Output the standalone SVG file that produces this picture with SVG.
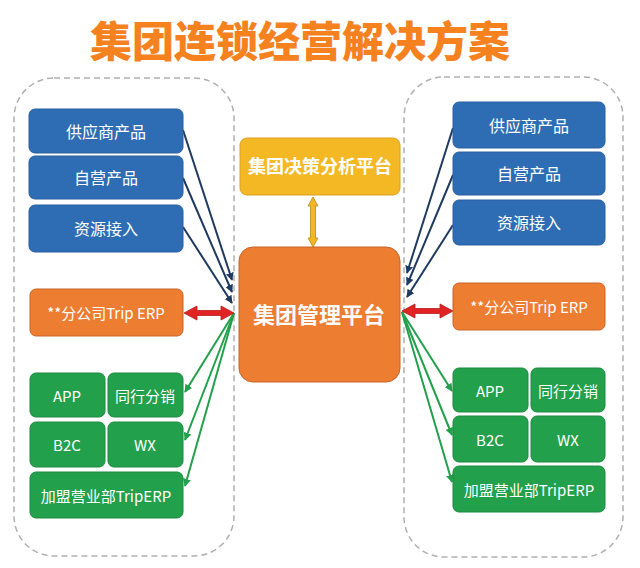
<svg xmlns="http://www.w3.org/2000/svg" width="640" height="568" viewBox="0 0 640 568">
<defs>
<style>
.t{font-family:"Noto Sans CJK SC","Liberation Sans",sans-serif;fill:#fff;text-anchor:middle;dominant-baseline:central}
.blue{fill:#2E6DB4;stroke:#2A5F9E;stroke-width:1}
.org{fill:#ED7D31;stroke:#C9652A;stroke-width:1}
.grn{fill:#22A04B;stroke:#1C8A40;stroke-width:1}
.cont{fill:none;stroke:#B0B0B0;stroke-width:1.5;stroke-dasharray:6 4}
.bl{stroke:#1F3A60;stroke-width:2;fill:none;marker-end:url(#ab)}
.gl{stroke:#22A04B;stroke-width:2;fill:none;marker-end:url(#ag)}
.red{fill:#E02424;stroke:#B81C1C;stroke-width:0.8}
</style>
<marker id="ab" viewBox="0 0 10 10" refX="9" refY="5" markerWidth="4" markerHeight="4" orient="auto"><path d="M0,0L10,5L0,10z" fill="#1F3A60"/></marker>
<marker id="ag" viewBox="0 0 10 10" refX="9" refY="5" markerWidth="4" markerHeight="4" orient="auto"><path d="M0,0L10,5L0,10z" fill="#22A04B"/></marker>
</defs>
<rect width="640" height="568" fill="#fff"/>
<text x="300" y="38" font-family="Noto Sans CJK SC,sans-serif" font-weight="900" font-size="42" fill="#F5821F" text-anchor="middle" dominant-baseline="central">集团连锁经营解决方案</text>

<rect class="cont" x="14" y="78" width="220" height="478" rx="40"/>
<rect class="cont" x="404" y="77" width="219" height="480" rx="40"/>

<g id="connectors">
<line class="bl" x1="183" y1="130" x2="232" y2="280"/>
<line class="bl" x1="183" y1="178" x2="232" y2="292"/>
<line class="bl" x1="183" y1="227" x2="232" y2="303"/>
<line class="gl" x1="234" y1="313" x2="185" y2="392"/>
<line class="gl" x1="234" y1="313" x2="185" y2="440"/>
<line class="gl" x1="234" y1="313" x2="185" y2="486"/>
<line class="bl" x1="453" y1="128" x2="407" y2="273"/>
<line class="bl" x1="453" y1="175" x2="407" y2="285"/>
<line class="bl" x1="453" y1="225" x2="407" y2="297"/>
<line class="gl" x1="402" y1="312" x2="452" y2="391"/>
<line class="gl" x1="402" y1="312" x2="452" y2="435"/>
<line class="gl" x1="402" y1="312" x2="452" y2="482"/>
<path class="red" d="M184,313 L197,306 L197,310.5 L221,310.5 L221,306 L234,313 L221,320 L221,315.5 L197,315.5 L197,320 Z"/>
<path class="red" d="M402,311 L415,304 L415,308.5 L440,308.5 L440,304 L453,311 L440,318 L440,313.5 L415,313.5 L415,318 Z"/>
<path d="M313,197 L318,206 L315.5,206 L315.5,238 L318,238 L313,247 L308,238 L310.5,238 L310.5,206 L308,206 Z" fill="#F2B626" stroke="#B88A20" stroke-width="0.8"/>
</g>

<g id="sup-l"><rect class="blue" x="29" y="109" width="154" height="44" rx="6"/><text class="t" x="106" y="131" font-size="16">供应商产品</text></g>
<g id="own-l"><rect class="blue" x="29" y="156" width="154" height="43" rx="6"/><text class="t" x="106" y="177" font-size="16">自营产品</text></g>
<g id="res-l"><rect class="blue" x="29" y="205" width="154" height="47" rx="6"/><text class="t" x="106" y="228" font-size="16">资源接入</text></g>
<g id="erp-l"><rect class="org" x="30" y="289" width="153" height="47" rx="6"/><text class="t" x="106" y="312" font-size="15">**分公司Trip ERP</text></g>
<g id="app-l"><rect class="grn" x="30" y="373" width="75" height="44" rx="6"/><text class="t" x="67" y="395" font-size="15">APP</text></g>
<g id="peer-l"><rect class="grn" x="108" y="373" width="75" height="44" rx="6"/><text class="t" x="145" y="395" font-size="15">同行分销</text></g>
<g id="b2c-l"><rect class="grn" x="30" y="422" width="75" height="45" rx="6"/><text class="t" x="67" y="444" font-size="15">B2C</text></g>
<g id="wx-l"><rect class="grn" x="108" y="422" width="75" height="45" rx="6"/><text class="t" x="145" y="444" font-size="15">WX</text></g>
<g id="fr-l"><rect class="grn" x="30" y="472" width="153" height="46" rx="6"/><text class="t" x="106" y="495" font-size="15">加盟营业部TripERP</text></g>

<g id="sup-r"><rect class="blue" x="453" y="102" width="152" height="46" rx="6"/><text class="t" x="529" y="125" font-size="16">供应商产品</text></g>
<g id="own-r"><rect class="blue" x="453" y="152" width="152" height="43" rx="6"/><text class="t" x="529" y="173" font-size="16">自营产品</text></g>
<g id="res-r"><rect class="blue" x="453" y="200" width="152" height="45" rx="6"/><text class="t" x="529" y="222" font-size="16">资源接入</text></g>
<g id="erp-r"><rect class="org" x="453" y="283" width="152" height="47" rx="6"/><text class="t" x="529" y="306" font-size="15">**分公司Trip ERP</text></g>
<g id="app-r"><rect class="grn" x="453" y="368" width="75" height="44" rx="6"/><text class="t" x="490" y="390" font-size="15">APP</text></g>
<g id="peer-r"><rect class="grn" x="531" y="368" width="74" height="44" rx="6"/><text class="t" x="568" y="390" font-size="15">同行分销</text></g>
<g id="b2c-r"><rect class="grn" x="453" y="416" width="75" height="46" rx="6"/><text class="t" x="490" y="439" font-size="15">B2C</text></g>
<g id="wx-r"><rect class="grn" x="531" y="416" width="74" height="46" rx="6"/><text class="t" x="568" y="439" font-size="15">WX</text></g>
<g id="fr-r"><rect class="grn" x="453" y="466" width="152" height="46" rx="6"/><text class="t" x="529" y="489" font-size="15">加盟营业部TripERP</text></g>

<g id="decision"><rect x="240" y="138" width="160" height="57" rx="7" fill="#F4B825" stroke="#D9A01F" stroke-width="1"/><text class="t" x="320" y="165" font-size="18" font-weight="bold">集团决策分析平台</text></g>
<g id="mgmt"><rect x="239" y="247" width="161" height="135" rx="14" fill="#ED7D31" stroke="#C9652A" stroke-width="1"/><text class="t" x="319" y="313" font-size="22" font-weight="bold">集团管理平台</text></g>
</svg>
